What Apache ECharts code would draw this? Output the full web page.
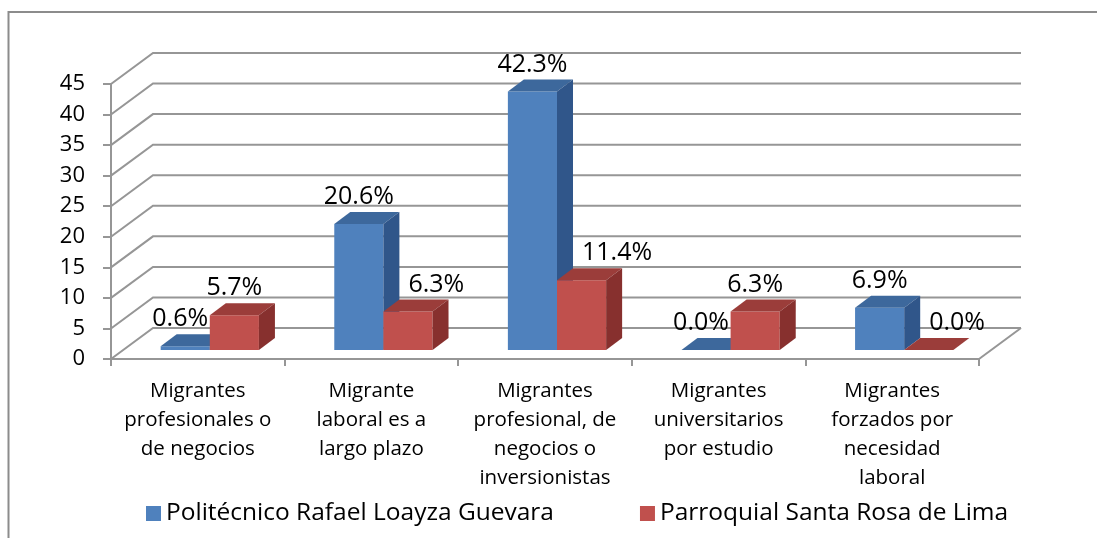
<!DOCTYPE html>
<html>
<head>
<meta charset="utf-8">
<script src="https://cdn.jsdelivr.net/npm/echarts@6/dist/echarts.min.js"></script>
<style>
  html, body { margin: 0; padding: 0; background: #fff; }
  #chart { width: 1097px; height: 538px; }
</style>
</head>
<body>
<div id="chart"></div>
<script>
var categories = [
    'Migrantes\nprofesionales o\nde negocios',
    'Migrante\nlaboral es a\nlargo plazo',
    'Migrantes\nprofesional, de\nnegocios o\ninversionistas',
    'Migrantes\nuniversitarios\npor estudio',
    'Migrantes\nforzados por\nnecesidad\nlaboral'
];
var seriesNames = ['Politécnico Rafael Loayza Guevara', 'Parroquial Santa Rosa de Lima'];
var politecnico = [0.6, 20.6, 42.3, 0.0, 6.9];
var parroquial = [5.7, 6.3, 11.4, 6.3, 0.0];
var yTicks = [0, 5, 10, 15, 20, 25, 30, 35, 40, 45];

var FONT = '"Open Sans", "Liberation Sans", sans-serif';
var GRID_COLOR = '#969696';
// 3d offsets in pixels
var WALL = [42, -31];   // depth of the floor / side wall
var BAR_FRONT = [12, -9]; // where the bar front face sits
var BAR_DEPTH = [16, -12];

var myChart = echarts.init(document.getElementById('chart'));

function wallRender(params, api) {
    var v = api.value(1);
    var a = api.coord([0, v]);
    var c = api.coord([5, v]);
    var children = [{
        type: 'polyline',
        shape: { points: [a, [a[0] + WALL[0], a[1] + WALL[1]], [c[0] + WALL[0], c[1] + WALL[1]]] },
        style: { stroke: GRID_COLOR, lineWidth: 2, fill: null }
    }];
    if (v === 0) {
        children.push({
            type: 'polyline',
            shape: { points: [c, [c[0] + WALL[0], c[1] + WALL[1]]] },
            style: { stroke: GRID_COLOR, lineWidth: 2, fill: null }
        });
    }
    return { type: 'group', children: children };
}

function barRender(side, colors, other) {
    return function(params, api) {
        var idx = api.value(0);
        var val = api.value(1);
        var base = api.coord([idx, 0]);
        var top = api.coord([idx, val]);
        var bw = api.size([1, 0])[0] * 0.283;
        var cx = base[0] + BAR_FRONT[0];
        var x0 = side === 0 ? cx - bw : cx;
        var x1 = x0 + bw;
        var yB = base[1] + BAR_FRONT[1];
        var yT = top[1] + BAR_FRONT[1];
        var dx = BAR_DEPTH[0], dy = BAR_DEPTH[1];

        // label moves aside when the neighbouring bar is taller
        var lx = (x0 + x1) / 2, align = 'center';
        if (other[idx] > val + 2) {
            if (side === 1) { lx = x0 + dx + 9; align = 'left'; }
            else { lx = lx - 5; }
        }
        return {
            type: 'group',
            children: [{
                type: 'rect',
                shape: { x: x0, y: yT, width: bw, height: yB - yT },
                style: { fill: colors[0] }
            }, {
                type: 'polygon',
                shape: { points: [[x0, yT], [x1, yT], [x1 + dx, yT + dy], [x0 + dx, yT + dy]] },
                style: { fill: colors[1] }
            }, {
                type: 'polygon',
                shape: { points: [[x1, yT], [x1 + dx, yT + dy], [x1 + dx, yB + dy], [x1, yB]] },
                style: { fill: colors[2] }
            }, {
                type: 'text',
                z2: 100,
                style: {
                    x: lx,
                    y: yT - 27,
                    text: val.toFixed(1) + '%',
                    fill: '#000',
                    font: '25px ' + FONT,
                    align: align,
                    verticalAlign: 'middle',
                    textAlign: align,
                    textVerticalAlign: 'middle'
                }
            }]
        };
    };
}

var option = {
    animation: false,
    backgroundColor: '#fff',
    graphic: [{
        type: 'rect',
        shape: { x: 8.5, y: 12, width: 1200, height: 700 },
        style: { fill: null, stroke: '#8c8c8c', lineWidth: 2 },
        silent: true
    }],
    grid: {
        left: 111,
        right: 118,
        top: 84,
        bottom: 179
    },
    legend: {
        data: seriesNames,
        left: 146,
        top: 501,
        padding: 0,
        icon: 'rect',
        itemWidth: 15,
        itemHeight: 15,
        itemGap: 86,
        textStyle: { fontSize: 24.5, color: '#000', fontFamily: FONT }
    },
    xAxis: [{
        type: 'category',
        data: categories,
        axisLine: { lineStyle: { color: GRID_COLOR, width: 2 } },
        axisTick: { show: true, length: 7, interval: 0, lineStyle: { color: GRID_COLOR, width: 2 } },
        axisLabel: {
            interval: 0,
            color: '#000',
            fontSize: 20.5,
            lineHeight: 29,
            margin: 18,
            fontFamily: FONT
        }
    }, {
        type: 'value',
        min: 0,
        max: 5,
        show: false
    }],
    yAxis: {
        type: 'value',
        min: 0,
        max: 45,
        interval: 5,
        splitLine: { show: false },
        axisLine: { show: true, lineStyle: { color: GRID_COLOR, width: 2 } },
        axisTick: { show: true, length: 8, lineStyle: { color: GRID_COLOR, width: 2 } },
        axisLabel: { color: '#000', fontSize: 22, margin: 26, fontFamily: FONT }
    },
    series: [{
        name: 'wall',
        type: 'custom',
        xAxisIndex: 1,
        z: 1,
        silent: true,
        renderItem: wallRender,
        encode: { x: 0, y: 1 },
        data: yTicks.map(function(v) { return [0, v]; })
    }, {
        name: seriesNames[0],
        type: 'custom',
        z: 2,
        itemStyle: { color: '#4F81BD' },
        renderItem: barRender(0, ['#4F81BD', '#3D689C', '#30568A'], parroquial),
        encode: { x: 0, y: 1 },
        data: politecnico.map(function(v, i) { return [i, v]; })
    }, {
        name: seriesNames[1],
        type: 'custom',
        z: 2,
        itemStyle: { color: '#C0504D' },
        renderItem: barRender(1, ['#C0504D', '#9B3D3A', '#87302E'], politecnico),
        encode: { x: 0, y: 1 },
        data: parroquial.map(function(v, i) { return [i, v]; })
    }]
};

myChart.setOption(option);
</script>
</body>
</html>
